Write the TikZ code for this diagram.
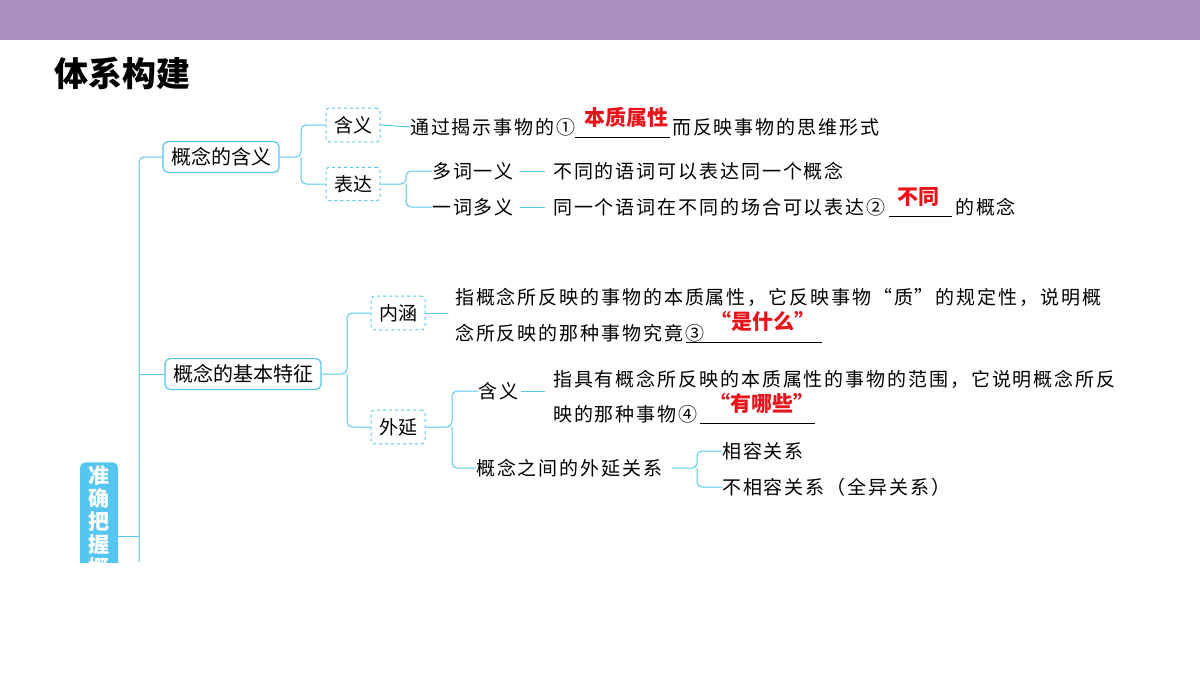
\documentclass[tikz,border=0pt]{standalone}
\usepackage{fontspec}
\setmainfont{Noto Sans CJK SC}
\newfontfamily\bodyfont[LetterSpace=10]{Noto Sans CJK SC}
\usetikzlibrary{positioning}
\definecolor{lineblue}{HTML}{55C6F0}
\definecolor{barpurple}{HTML}{AD8EC0}
\definecolor{ansred}{HTML}{E8141B}
\tikzset{
  mainbox/.style={draw=lineblue,line width=1.2pt,rounded corners=5pt,inner xsep=8pt,inner ysep=6pt,font=\fontsize{20}{20}\selectfont},
  subbox/.style={draw=lineblue,dashed,line width=1pt,rounded corners=3pt,inner xsep=8pt,inner ysep=8pt,font=\fontsize{19}{19}\selectfont},
  txt/.style={anchor=west,inner sep=0pt,font=\bodyfont\fontsize{19}{19}\selectfont},
  ans/.style={inner sep=0pt,text=ansred,font=\fontsize{21}{21}\selectfont\bfseries},
  conn/.style={lineblue,line width=1pt,rounded corners=5pt},
  blank/.style={line width=0.8pt}
}
\begin{document}
\begin{tikzpicture}[x=1pt,y=-1pt]
  \useasboundingbox (0,0) rectangle (1200,675);
  \fill[barpurple] (0,0) rectangle (1200,40);
  \node[anchor=west,inner sep=0pt,font=\fontsize{34}{34}\selectfont\bfseries] (title) at (54,73) {体系构建};
  % left label box
  \begin{scope}
    \clip (60,440) rectangle (130,562);
    \node[fill=lineblue,rounded corners=5pt,minimum width=38pt,minimum height=130pt,text width=22pt,align=center,
      text=white,font=\fontsize{21}{23}\selectfont\bfseries] (root) at (99,533) {准\\确\\把\\握\\概\\念};
  \end{scope}
  \coordinate (rootE) at (118,536);
  \coordinate (trunkEnd) at (139,562);
  % main boxes
  \node[mainbox] (gaiyi) at (221,157) {概念的含义};
  \node[mainbox] (tezheng) at (243,374) {概念的基本特征};
  \draw[conn] (trunkEnd) -- (139,157) -- (gaiyi.west);
  \draw[conn] (139,374) -- (tezheng.west);
  \draw[conn] (rootE) -- (139,536);
  % sub boxes
  \node[subbox] (hanyi) at (353,125) {含义};
  \node[subbox] (biaoda) at (353,184) {表达};
  \node[subbox] (neihan) at (398,313) {内涵};
  \node[subbox] (waiyan) at (398,427) {外延};
  \draw[conn] (gaiyi.east) -- (301,157) |- (hanyi.west);
  \draw[conn] (301,157) |- (biaoda.west);
  \draw[conn] (tezheng.east) -- (347,374) |- (neihan.west);
  \draw[conn] (347,374) |- (waiyan.west);
  % 含义
  \node[txt] (t1) at (410,127) {通过揭示事物的①};
  \coordinate (b1) at (670,137);
  \draw[blank] (575,137) -- (b1);
  \node[ans] (a1) at (626,117) {本质属性};
  \node[txt] (t1b) at (672,127) {而反映事物的思维形式};
  \draw[conn] (hanyi.east) -- (t1.west);
  % 表达
  \node[txt] (duoci) at (432,171) {多词一义};
  \node[txt] (yici) at (432,207) {一词多义};
  \draw[conn] (biaoda.east) -- (406,184) |- (duoci.west);
  \draw[conn] (406,184) |- (yici.west);
  \node[txt] (t2) at (553,171) {不同的语词可以表达同一个概念};
  \draw[conn] (520,171) -- (545,171);
  \node[txt] (t3) at (553,207) {同一个语词在不同的场合可以表达②};
  \draw[conn] (520,207) -- (545,207);
  \draw[blank] (889,216) -- (952,216) coordinate (b2);
  \node[ans] (a2) at (918,197) {不同};
  \node[txt] (t3b) at (955,207) {的概念};
  % 内涵
  \node[txt] (t4) at (455,297) {指概念所反映的事物的本质属性，它反映事物“质”的规定性，说明概};
  \node[txt] (t5) at (455,333) {念所反映的那种事物究竟③};
  \draw[blank] (686,342) -- (822,342);
  \node[ans] (a3) at (763,321) {“是什么”};
  \draw[conn] (neihan.east) -- (448,313);
  % 外延
  \node[txt] (hy2) at (478,391) {含义};
  \node[txt] (guanxi) at (476,468) {概念之间的外延关系};
  \draw[conn] (waiyan.east) -- (452,427) |- (hy2.west);
  \draw[conn] (452,427) |- (guanxi.west);
  \draw[conn] (521,391) -- (545,391);
  \node[txt] (t6) at (553,379) {指具有概念所反映的本质属性的事物的范围，它说明概念所反};
  \node[txt] (t7) at (553,414) {映的那种事物④};
  \draw[blank] (700,423) -- (815,423);
  \node[ans] (a4) at (762,403) {“有哪些”};
  \node[txt] (xr) at (722,451) {相容关系};
  \node[txt] (bxr) at (722,487) {不相容关系（全异关系）};
  \draw[conn] (672,468) -- (697,468) |- (xr.west);
  \draw[conn] (697,468) |- (bxr.west);
\end{tikzpicture}
\end{document}
